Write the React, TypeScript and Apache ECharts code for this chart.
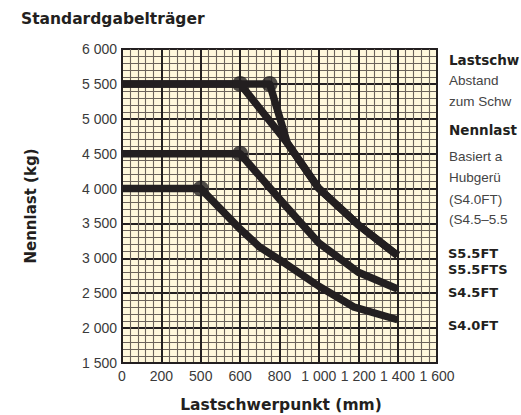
import React, { useEffect, useRef } from "react";
import * as echarts from "echarts";

// ---- data ----
const xTickLabels = ["0", "200", "500", "600", "800", "1 000", "1 200", "1 400", "1 600"];
const yTickLabels = ["1 500", "2 000", "2 500", "3 000", "3 500", "4 000", "4 500", "5 000", "5 500", "6 000"];
const seriesNames = ["S5.5FT", "S5.5FTS", "S4.5FT", "S4.0FT"];

const s55ft: [number, number][] = [[0, 5500], [600, 5500], [840, 4650], [1000, 4000], [1200, 3480], [1400, 3040]];
const s55fts: [number, number][] = [[0, 5500], [750, 5500], [840, 4650], [1000, 4000], [1200, 3480], [1400, 3040]];
const s45ft: [number, number][] = [[0, 4500], [600, 4500], [800, 3850], [1000, 3220], [1200, 2800], [1400, 2560]];
const s40ft: [number, number][] = [[0, 4000], [400, 4000], [600, 3420], [700, 3160], [800, 2980], [1000, 2600], [1180, 2300], [1400, 2120]];
const markerPoints: [number, number][] = [[600, 5500], [750, 5500], [600, 4500], [400, 4000]];

// visible (edge-clipped) notes on the right
const noteLines = [
  { text: "Lastschw", bold: true },
  { text: "Abstand", bold: false },
  { text: "zum Schw", bold: false },
  { text: "Nennlast", bold: true },
  { text: "Basiert a", bold: false },
  { text: "Hubgerü", bold: false },
  { text: "(S4.0FT)", bold: false },
  { text: "(S4.5–5.5", bold: false },
];

const INK = "#231f20";
const SANS = '"Liberation Sans", Arial, sans-serif';
const BOLD = '"DejaVu Sans", "Liberation Sans", sans-serif';

export default function App() {
  const ref = useRef<HTMLDivElement>(null);

  useEffect(() => {
    if (!ref.current) return;
    const chart = echarts.init(ref.current, undefined, { renderer: "svg" });

    const noteY = [60, 80, 101, 130, 156, 177, 199, 219];
    const labelY = [253.5, 269.5, 292.5, 325.5];

    const graphics: any[] = [
      {
        type: "text", x: 21, y: 19,
        style: { text: "Standardgabelträger", font: `bold 15.5px ${BOLD}`, fill: INK, align: "left", verticalAlign: "middle", textAlign: "left", textVerticalAlign: "middle" },
      },
      {
        type: "text", x: 31, y: 206, rotation: Math.PI / 2,
        style: { text: "Nennlast (kg)", font: `bold 15px ${BOLD}`, fill: INK, align: "center", verticalAlign: "middle", textAlign: "center", textVerticalAlign: "middle" },
      },
      {
        type: "text", x: 281, y: 405,
        style: { text: "Lastschwerpunkt (mm)", font: `bold 15.5px ${BOLD}`, fill: INK, align: "center", verticalAlign: "middle", textAlign: "center", textVerticalAlign: "middle" },
      },
    ];
    noteLines.forEach((l, i) => {
      graphics.push({
        type: "text", x: 449, y: noteY[i],
        style: {
          text: l.text,
          font: l.bold ? `bold 13.5px ${BOLD}` : `13.5px ${SANS}`,
          fill: l.bold ? INK : "#444",
          align: "left", verticalAlign: "middle", textAlign: "left", textVerticalAlign: "middle",
        },
      });
    });
    seriesNames.forEach((n, i) => {
      graphics.push({
        type: "text", x: 448, y: labelY[i],
        style: { text: n, font: `bold 13px ${BOLD}`, fill: INK, align: "left", verticalAlign: "middle", textAlign: "left", textVerticalAlign: "middle" },
      });
    });

    const lineSeries = [s55ft, s55fts, s45ft, s40ft].map((d, i) => ({
      name: seriesNames[i],
      type: "line",
      data: d,
      symbol: "none",
      z: 5,
      lineStyle: { color: INK, width: 7.5, join: "round", cap: "butt" },
    }));

    chart.setOption({
      animation: false,
      backgroundColor: "#ffffff",
      grid: {
        left: 122, top: 49, width: 315, height: 314,
        show: true, backgroundColor: "#fff8dc", borderColor: INK, borderWidth: 2,
      },
      xAxis: {
        type: "value", min: 0, max: 1600, interval: 200,
        axisLine: { show: true, lineStyle: { color: INK, width: 2 } },
        axisTick: { show: false },
        minorTick: { show: false, splitNumber: 5 },
        axisLabel: {
          formatter: (v: number) => xTickLabels[Math.round(v / 200)] ?? "",
          color: "#3a3a3a", fontSize: 14, fontFamily: SANS, margin: 6,
        },
        splitLine: { show: true, lineStyle: { color: INK, width: 2 } },
        minorSplitLine: { show: true, lineStyle: { color: "#6b635b", width: 1.1 } },
      },
      yAxis: {
        type: "value", min: 1500, max: 6000, interval: 500,
        axisLine: { show: true, lineStyle: { color: INK, width: 2 } },
        axisTick: { show: false },
        minorTick: { show: false, splitNumber: 5 },
        axisLabel: {
          formatter: (v: number) => yTickLabels[Math.round((v - 1500) / 500)] ?? "",
          color: "#3a3a3a", fontSize: 14, fontFamily: SANS, margin: 5,
        },
        splitLine: { show: true, lineStyle: { color: INK, width: 2 } },
        minorSplitLine: { show: true, lineStyle: { color: "#6b635b", width: 1.1 } },
      },
      series: [
        ...lineSeries,
        {
          type: "scatter",
          data: markerPoints,
          symbol: "circle",
          symbolSize: 16,
          z: 6,
          itemStyle: { color: INK },
        },
      ],
      graphic: graphics,
    });

    return () => chart.dispose();
  }, []);

  return <div ref={ref} style={{ position: "absolute", left: 0, top: 0, width: 521, height: 415 }} />;
}
